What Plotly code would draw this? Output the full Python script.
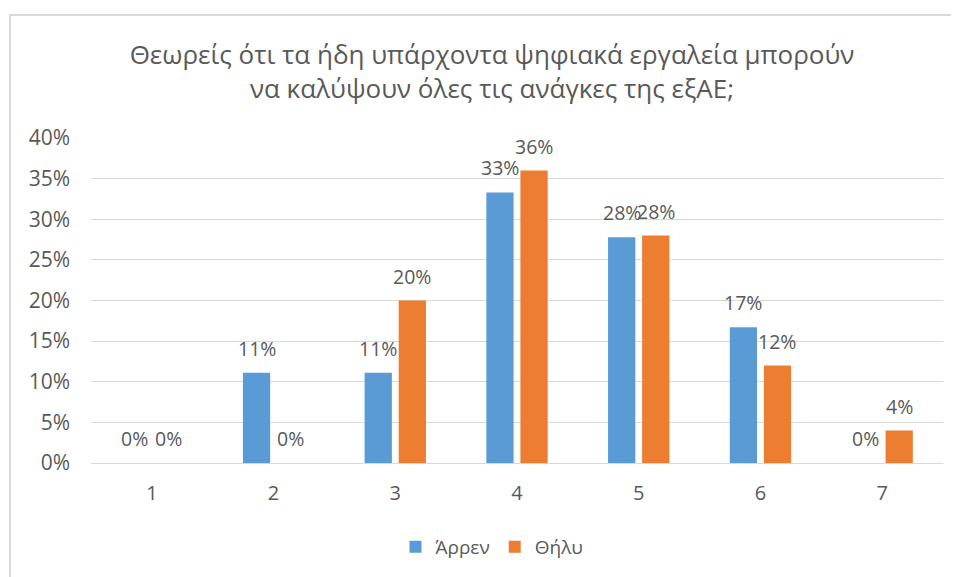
import plotly.graph_objects as go

categories = ["1", "2", "3", "4", "5", "6", "7"]
male = [0.0, 11.1, 11.1, 33.3, 27.8, 16.7, 0.0]
female = [0.0, 0.0, 20.0, 36.0, 28.0, 12.0, 4.0]
series_names = ["Άρρεν", "Θήλυ"]
y_ticks = [0, 5, 10, 15, 20, 25, 30, 35, 40]
y_tick_labels = [f"{t}%" for t in y_ticks]
title_text = "Θεωρείς ότι τα ήδη υπάρχοντα ψηφιακά εργαλεία μπορούν<br>να καλύψουν όλες τις ανάγκες της εξΑΕ;"

FONT = "Open Sans"
GRAY = "#595959"

# page body has an 8px margin, so the figure is laid out in coordinates shifted by 8px
L, T, PW, PH = 83, 130, 852, 325
BARGAP, GROUPGAP = 0.44, 0.2
slot = PW / len(categories) * (1 - BARGAP) / 2

fig = go.Figure()
annotations = []
for k, (name, vals, color) in enumerate([(series_names[0], male, "#5b9bd5"),
                                         (series_names[1], female, "#ed7d31")]):
    fig.add_trace(go.Bar(
        x=categories, y=vals, name=name,
        marker=dict(color=color, line=dict(width=0)),
    ))
    shift = (k - 0.5) * slot
    for i, v in enumerate(vals):
        annotations.append(dict(
            x=i, y=v, xref="x", yref="y", text=f"{round(v):.0f}%",
            showarrow=False, xanchor="center", yanchor="bottom",
            xshift=shift, yshift=9,
            font=dict(family=FONT, size=19.5, color=GRAY),
        ))

fig.update_layout(
    width=951, height=569,
    margin=dict(l=L, r=951 - L - PW, t=T, b=569 - T - PH, autoexpand=False),
    paper_bgcolor="white", plot_bgcolor="white",
    barmode="group", bargap=BARGAP, bargroupgap=GROUPGAP,
    title=dict(text=title_text, x=(484 - L) / PW, xref="paper", xanchor="center",
               y=0.902, yanchor="top",
               font=dict(family=FONT, size=26, color=GRAY)),
    font=dict(family=FONT, color=GRAY),
    legend=dict(orientation="h", x=(484 - L) / PW, xanchor="center",
                y=-(539 - T - PH) / PH, yanchor="middle",
                font=dict(family=FONT, size=19, color=GRAY),
                traceorder="normal"),
    xaxis=dict(type="category", range=[-0.5, len(categories) - 0.5],
               showgrid=False, showline=True, linecolor="#d9d9d9", linewidth=1,
               ticks="", ticklabelstandoff=12, tickfont=dict(family=FONT, size=20, color=GRAY)),
    yaxis=dict(range=[0, 40], tickvals=y_ticks, ticktext=y_tick_labels,
               showgrid=True, gridcolor="#d9d9d9", gridwidth=1, zeroline=False,
               showline=False, ticks="", ticklabelstandoff=20,
               tickfont=dict(family=FONT, size=21, color=GRAY)),
    annotations=annotations,
    shapes=[dict(type="rect", xref="paper", yref="paper",
                 x0=(2 - L) / PW, x1=(990 - L) / PW,
                 y0=-(620 - T - PH) / PH, y1=1 + (T - 7) / PH,
                 line=dict(color="#d9d9d9", width=2), layer="below")],
)

fig.write_html("out.html")
